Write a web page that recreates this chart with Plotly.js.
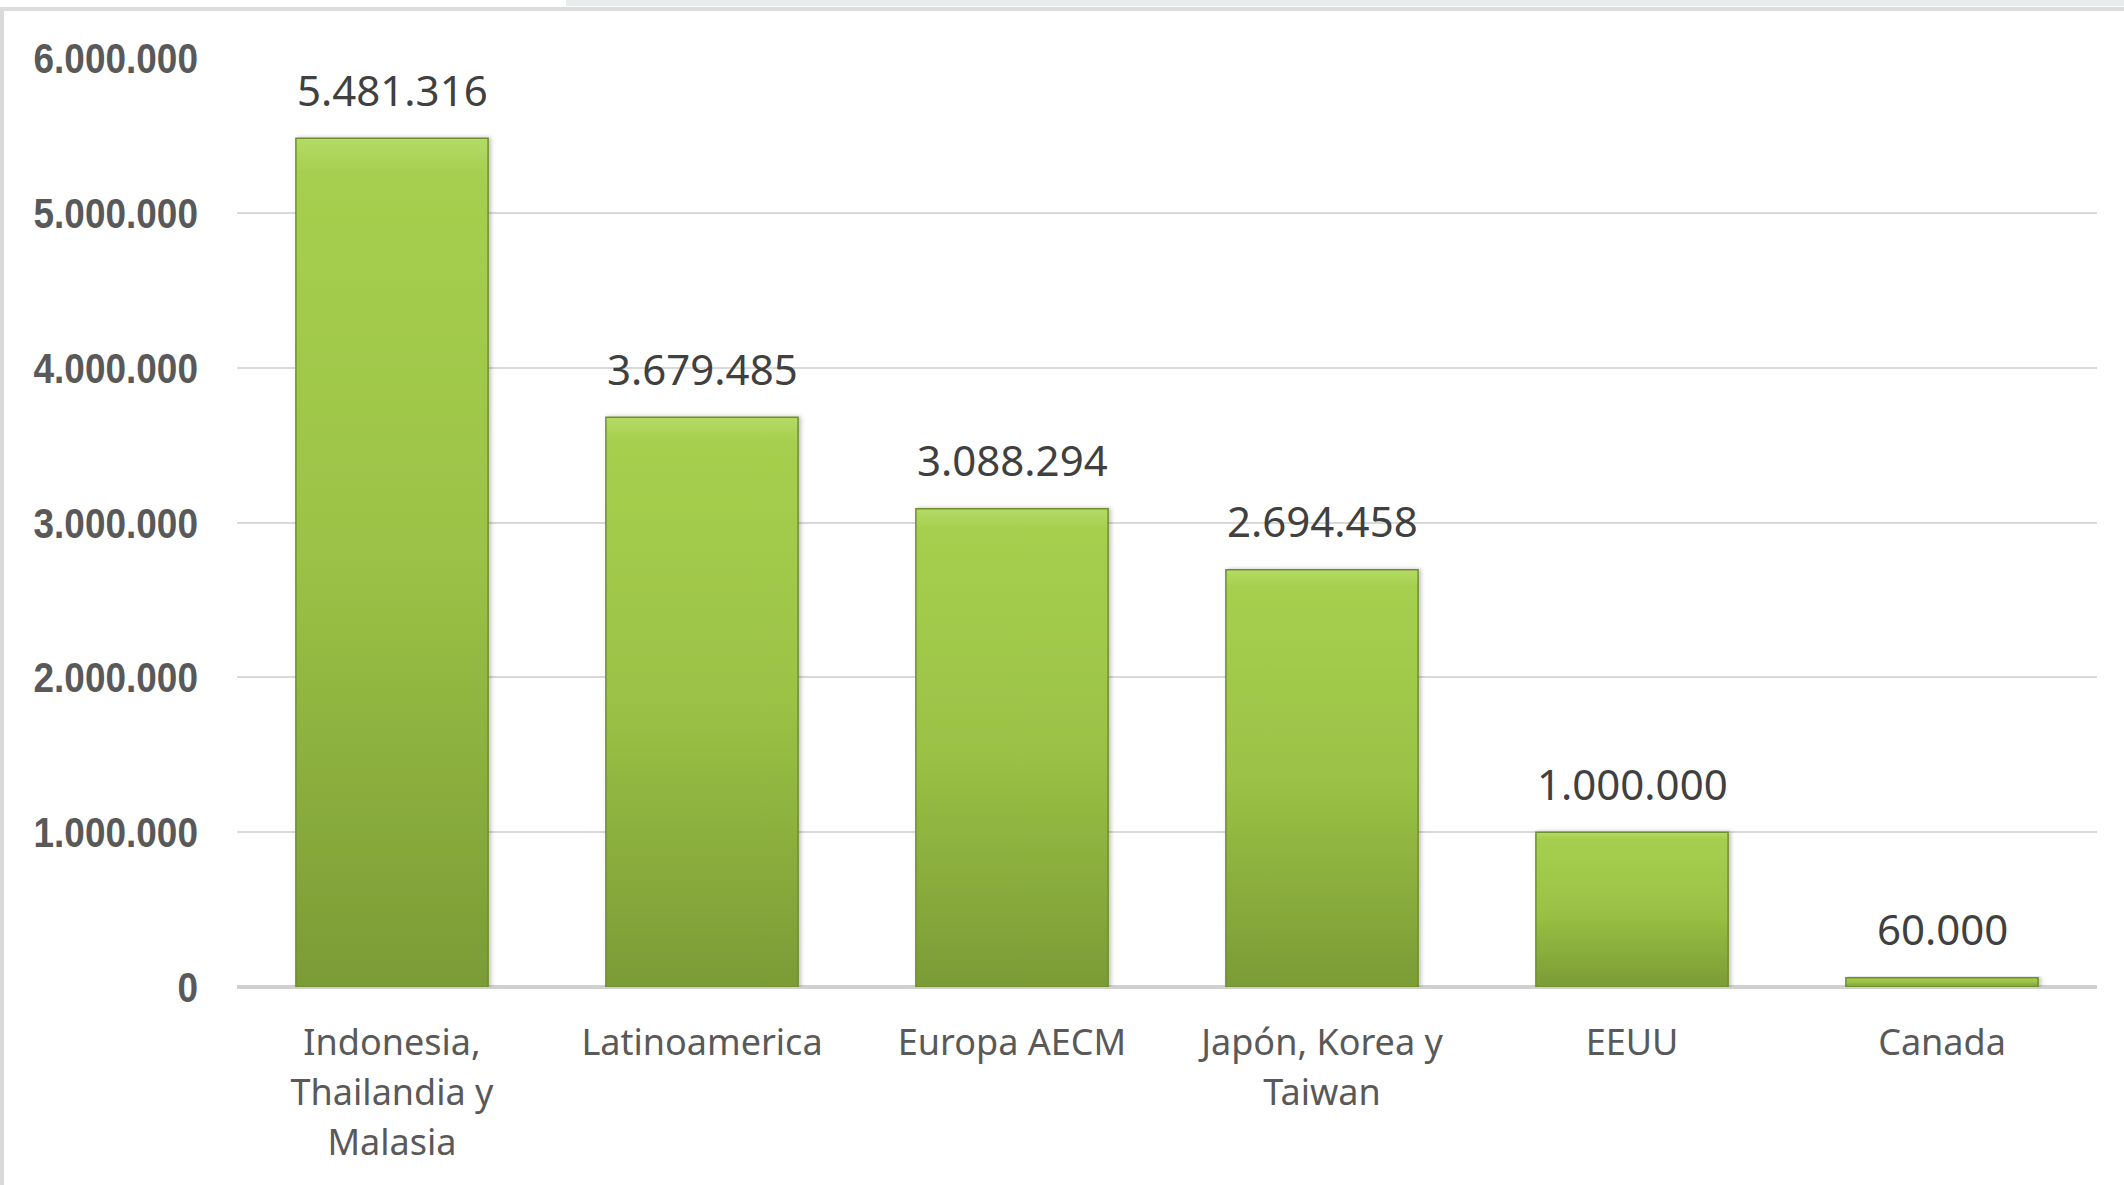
<!DOCTYPE html>
<html>
<head>
<meta charset="utf-8">
<script src="https://cdn.plot.ly/plotly-3.0.1.min.js"></script>
<style>
  html, body { margin: 0; padding: 0; background: #ffffff; overflow: hidden; }
  #wrap { position: relative; width: 2124px; height: 1185px; }
  #chart { position: absolute; left: 0; top: 0; width: 2124px; height: 1185px; }
  .deco { position: absolute; pointer-events: none; }
</style>
</head>
<body>
<div id="wrap">
  <div id="chart"></div>
  <div class="deco" style="left:566px; top:0; width:1558px; height:6px; background:#e7ebeb;"></div>
  <div class="deco" style="left:0; top:7px; width:2124px; height:4px; background:#dcdcdc;"></div>
  <div class="deco" style="left:0; top:9px; width:4px; height:1176px; background:#dadada;"></div>
</div>
<script>
// ---- data ----
const categories = [
  "Indonesia,<br>Thailandia y<br>Malasia",
  "Latinoamerica",
  "Europa AECM",
  "Japón, Korea y<br>Taiwan",
  "EEUU",
  "Canada"
];
const values = [5481316, 3679485, 3088294, 2694458, 1000000, 60000];
const yTickValues = [0, 1000000, 2000000, 3000000, 4000000, 5000000, 6000000];

function fmt(n) {
  return String(n).replace(/\B(?=(\d{3})+(?!\d))/g, ".");
}

const trace = {
  type: "bar",
  x: categories,
  y: values,
  marker: { color: "#97c043", line: { color: "#6f8f2c", width: 1.5 } },
  hoverinfo: "none",
  cliponaxis: false
};

const annotations = categories.map((c, i) => ({
  x: c, y: values[i], xref: "x", yref: "y",
  text: fmt(values[i]),
  showarrow: false,
  yanchor: "middle",
  yshift: 49,
  font: { family: "Noto Sans, Open Sans, sans-serif", size: 42, color: "#404040" }
}));

const layout = {
  width: 2124,
  height: 1185,
  margin: { l: 237, r: 27, t: 58, b: 198 },
  paper_bgcolor: "rgba(0,0,0,0)",
  plot_bgcolor: "rgba(0,0,0,0)",
  separators: ",.",
  showlegend: false,
  bargap: 0.38,
  xaxis: {
    type: "category",
    showgrid: false,
    zeroline: false,
    showline: false,
    ticks: "",
    ticklabelstandoff: 31,
    tickfont: { family: "Noto Sans, Open Sans, sans-serif", size: 36, color: "#595959" }
  },
  yaxis: {
    range: [0, 6000000],
    tickvals: yTickValues,
    ticktext: yTickValues.map(fmt),
    showgrid: true,
    gridcolor: "#d9d9d9",
    gridwidth: 2,
    zeroline: true,
    zerolinecolor: "#d0d0d0",
    zerolinewidth: 4,
    showline: false,
    ticks: "",
    ticklabelstandoff: 38,
    tickfont: { family: "Liberation Sans Narrow, Liberation Sans, Arial Narrow, sans-serif", size: 43, color: "#595959", weight: "bold" }
  },
  annotations: annotations
};

Plotly.newPlot("chart", [trace], layout, { staticPlot: true, displayModeBar: false }).then(gd => {
  const svg = gd.querySelector("svg.main-svg");
  const defs = svg.querySelector("defs");
  const ns = "http://www.w3.org/2000/svg";
  const grad = document.createElementNS(ns, "linearGradient");
  grad.setAttribute("id", "barGrad");
  grad.setAttribute("x1", "0"); grad.setAttribute("y1", "0");
  grad.setAttribute("x2", "0"); grad.setAttribute("y2", "1");
  [["0", "#b4db66"], ["0.04", "#a7cf4f"], ["0.5", "#9bc245"], ["1", "#7b9b36"]].forEach(([o, c]) => {
    const s = document.createElementNS(ns, "stop");
    s.setAttribute("offset", o); s.setAttribute("stop-color", c);
    grad.appendChild(s);
  });
  defs.appendChild(grad);
  const filt = document.createElementNS(ns, "filter");
  filt.setAttribute("id", "barShadow");
  filt.setAttribute("x", "-10%"); filt.setAttribute("y", "-10%");
  filt.setAttribute("width", "120%"); filt.setAttribute("height", "120%");
  const ds = document.createElementNS(ns, "feDropShadow");
  ds.setAttribute("dx", "2"); ds.setAttribute("dy", "0");
  ds.setAttribute("stdDeviation", "2"); ds.setAttribute("flood-color", "#000");
  ds.setAttribute("flood-opacity", "0.25");
  filt.appendChild(ds);
  defs.appendChild(filt);
  gd.querySelectorAll(".barlayer .point path").forEach(p => {
    p.style.fill = "url(#barGrad)";
    p.setAttribute("filter", "url(#barShadow)");
  });

  // condense y tick labels horizontally (narrow bold look), anchored at right edge
  gd.querySelectorAll(".ytick text").forEach(t => {
    const b = t.getBBox();
    const r = b.x + b.width;
    const prev = t.getAttribute("transform") || "";
    t.setAttribute("transform", prev + " translate(" + r + ",0) scale(0.86,1) translate(" + (-r) + ",0)");
  });

  // slightly wider line spacing for multi-line category labels
  gd.querySelectorAll(".xtick text tspan.line").forEach(ts => {
    const dy = ts.getAttribute("dy");
    if (dy && dy.endsWith("em")) {
      const v = parseFloat(dy);
      if (v !== 0) ts.setAttribute("dy", (v * 1.39 / 1.3) + "em");
    }
  });
});
</script>
</body>
</html>
